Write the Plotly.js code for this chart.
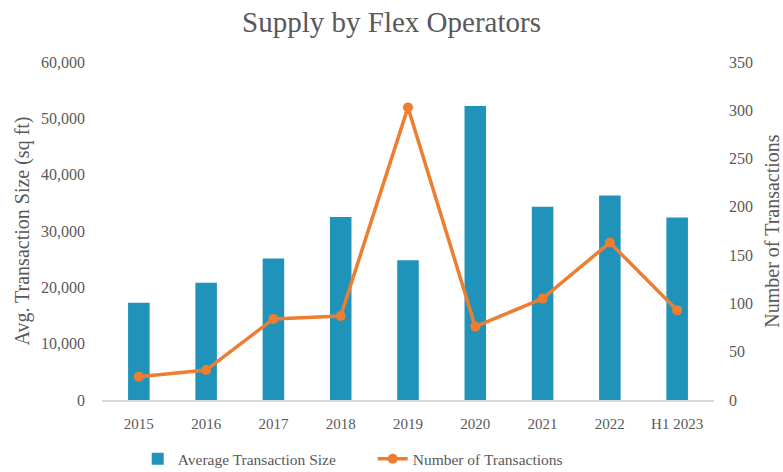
<!DOCTYPE html>
<html>
<head>
<meta charset="utf-8">
<script src="https://cdn.plot.ly/plotly-3.0.1.min.js"></script>
<style>html,body{margin:0;padding:0;background:#fff;}#chart{width:783px;height:472px;}</style>
</head>
<body>
<div id="chart"></div>
<script>
const categories = ["2015","2016","2017","2018","2019","2020","2021","2022","H1 2023"];
const avgTransactionSize = [17250, 20800, 25100, 32500, 24800, 52200, 34300, 36300, 32400];
const numTransactions = [24, 31, 84, 87, 303, 76, 105, 163, 93];

const font = "'Liberation Serif', 'DejaVu Serif', serif";
const grey = "#595959";

const traces = [
  {
    type: "bar",
    name: "Average Transaction Size",
    x: categories,
    y: avgTransactionSize,
    marker: {color: "#1F93BA"},
    width: 0.32,
    yaxis: "y"
  },
  {
    type: "scatter",
    mode: "lines+markers",
    name: "Number of Transactions",
    x: categories,
    y: numTransactions,
    line: {color: "#ED7D31", width: 3.5},
    marker: {color: "#ED7D31", size: 10},
    yaxis: "y2"
  }
];

const layout = {
  width: 783, height: 472,
  margin: {l: 102, r: 69, t: 62, b: 72},
  paper_bgcolor: "#fff", plot_bgcolor: "#fff",
  font: {family: font, color: grey, size: 15},
  title: {text: "Supply by Flex Operators", font: {family: font, size: 29, color: grey}, x: 0.5, xanchor: "center", xref: "container", y: 0.954, yanchor: "middle"},
  showlegend: true,
  legend: {orientation: "h", xref: "container", yref: "container", x: 0.476, xanchor: "center", y: 0.027, yanchor: "middle", font: {family: font, size: 15.5, color: grey}, traceorder: "normal", entrywidth: 190, entrywidthmode: "pixels"},
  xaxis: {
    type: "category",
    showgrid: false, zeroline: false,
    showline: true, linecolor: "#d9d9d9", linewidth: 1.5,
    ticks: "", tickfont: {family: font, size: 15, color: grey},
    ticklabelstandoff: 9
  },
  yaxis: {
    range: [0, 60000], dtick: 10000, tickformat: ",",
    showgrid: false, zeroline: false, showline: false, ticks: "",
    tickfont: {family: font, size: 16, color: grey},
    title: {text: "Avg. Transaction Size (sq ft)", font: {family: font, size: 20, color: grey}, standoff: 6},
    ticklabelstandoff: 16
  },
  yaxis2: {
    overlaying: "y", side: "right",
    range: [0, 350], dtick: 50,
    showgrid: false, zeroline: false, showline: false, ticks: "",
    tickfont: {family: font, size: 16, color: grey},
    title: {text: "Number of Transactions", font: {family: font, size: 20, color: grey}, standoff: 13},
    ticklabelstandoff: 14
  }
};

Plotly.newPlot("chart", traces, layout, {displayModeBar: false, staticPlot: true});
</script>
</body>
</html>
